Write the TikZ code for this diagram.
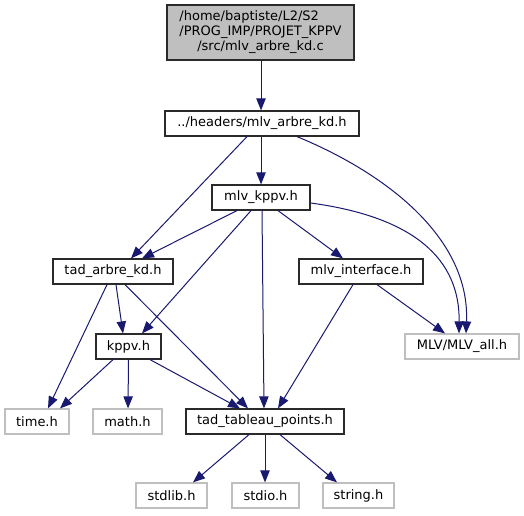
\documentclass[tikz,border=0pt]{standalone}
\usepackage{fontspec}
\setmainfont{DejaVu Sans}
\usetikzlibrary{arrows.meta,calc}
\definecolor{edgec}{HTML}{191970}
\definecolor{nborder}{HTML}{2A2A2A}
\definecolor{gborder}{HTML}{BFBFBF}
\definecolor{rootfill}{HTML}{BFBFBF}
\begin{document}
\begin{tikzpicture}[x=0.75pt,y=-0.75pt,
  box/.style={draw=nborder, line width=0.9pt, fill=white, inner sep=0pt,
    minimum height=25*0.75pt, font=\fontsize{9.75pt}{11pt}\selectfont, text=black},
  sysbox/.style={box, draw=gborder},
  edge/.style={draw=edgec, line width=0.75pt, -{Triangle[length=9pt,width=7pt]}}]
\useasboundingbox (0,0) rectangle (524,515);
\fill[white] (0,0) rectangle (524,515);

\node[box, fill=rootfill, minimum width=187*0.75pt, minimum height=55*0.75pt] (top) at (260.5,32.5)
  {\begin{tabular}{@{}l@{}}/home/baptiste/L2/S2\\/PROG\_IMP/PROJET\_KPPV\\\multicolumn{1}{@{}c@{}}{/src/mlv\_arbre\_kd.c}\end{tabular}};
\node[box, minimum width=194*0.75pt] (hdr) at (262,123.5) {../headers/mlv\_arbre\_kd.h};
\node[box, minimum width=98*0.75pt] (kppvm) at (261,197.5) {mlv\_kppv.h};
\node[box, minimum width=120*0.75pt] (tad) at (113,271.5) {tad\_arbre\_kd.h};
\node[box, minimum width=124*0.75pt] (inter) at (361,271.5) {mlv\_interface.h};
\node[sysbox, minimum width=114*0.75pt] (mlv) at (462,346.5) {MLV/MLV\_all.h};
\node[box, minimum width=65*0.75pt] (kppv) at (128.5,346.5) {kppv.h};
\node[sysbox, minimum width=64*0.75pt] (time) at (37,421.5) {time.h};
\node[sysbox, minimum width=69*0.75pt] (math) at (127.5,421.5) {math.h};
\node[box, minimum width=158*0.75pt] (tab) at (265,421.5) {tad\_tableau\_points.h};
\node[sysbox, minimum width=71*0.75pt] (stdlib) at (171.5,495.5) {stdlib.h};
\node[sysbox, minimum width=67*0.75pt] (stdio) at (265.5,495.5) {stdio.h};
\node[sysbox, minimum width=71*0.75pt] (string) at (358.5,495.5) {string.h};

\draw[edge] ($(top.south)+(0.5,0)$) -- ($(hdr.north)+(-1,0)$);
\draw[edge] ($(hdr.south)+(-15,0)$) -- ($(tad.north)+(18,0)$);
\draw[edge] ($(hdr.south)+(-1,0)$) -- (kppvm.north);
\draw[edge] ($(hdr.south)+(35,0)$) .. controls (390,175) and (470,240) .. ($(mlv.north)+(4,0)$);
\draw[edge] ($(kppvm.south)+(-24,0)$) -- ($(tad.north)+(29,0)$);
\draw[edge] ($(kppvm.south)+(-10,0)$) -- ($(kppv.north)+(13.5,0)$);
\draw[edge] ($(kppvm.south)+(1,0)$) -- ($(tab.north)+(-1,0)$);
\draw[edge] ($(kppvm.south)+(17,0)$) -- ($(inter.north)+(-18,0)$);
\draw[edge] ($(kppvm.east)+(0,5.5)$) .. controls (400,215) and (460,250) .. ($(mlv.north)+(-3,0)$);
\draw[edge] ($(tad.south)+(3,0)$) -- ($(kppv.north)+(-5.5,0)$);
\draw[edge] ($(tad.south)+(-6,0)$) -- ($(time.north)+(11,0)$);
\draw[edge] ($(tad.south)+(12,0)$) -- ($(tab.north)+(-17,0)$);
\draw[edge] ($(inter.south)+(16,0)$) -- ($(mlv.north)+(-17,0)$);
\draw[edge] ($(inter.south)+(-8,0)$) -- ($(tab.north)+(13,0)$);
\draw[edge] ($(kppv.south)+(-15.5,0)$) -- ($(time.north)+(23,0)$);
\draw[edge] (kppv.south) -- ($(math.north)+(0.5,0)$);
\draw[edge] ($(kppv.south)+(21.5,0)$) -- ($(tab.north)+(-25,0)$);
\draw[edge] ($(tab.south)+(-16,0)$) -- ($(stdlib.north)+(21.5,0)$);
\draw[edge] (tab.south) -- ($(stdio.north)+(-0.5,0)$);
\draw[edge] ($(tab.south)+(15,0)$) -- ($(string.north)+(-21.5,0)$);
\end{tikzpicture}
\end{document}
